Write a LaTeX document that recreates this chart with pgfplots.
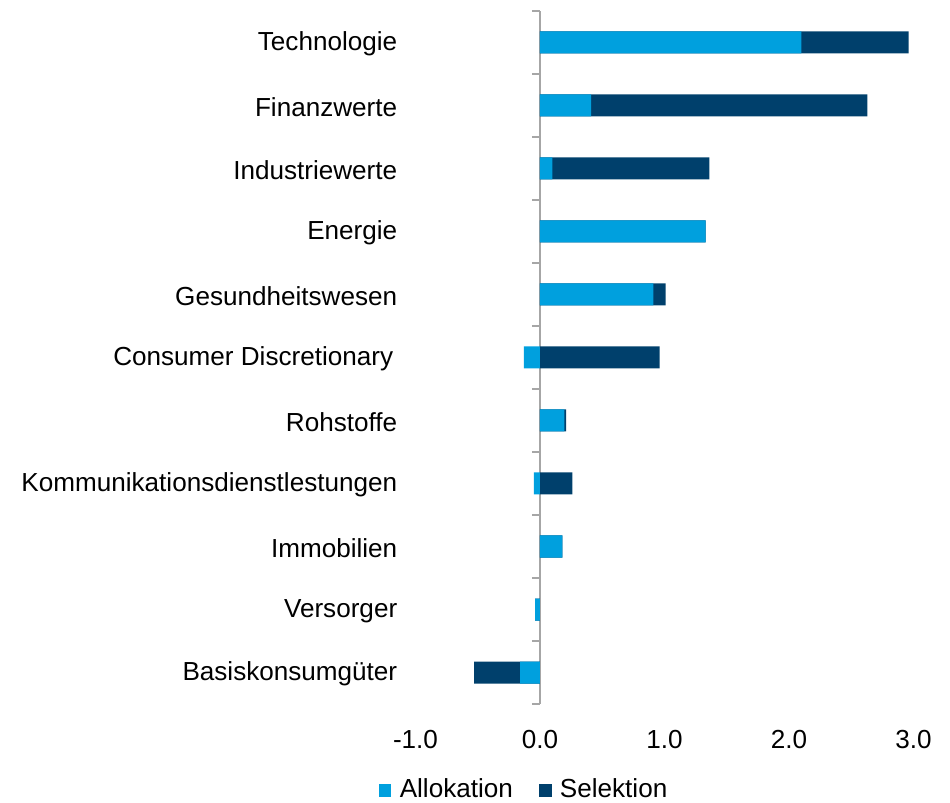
\documentclass[border=0pt]{standalone}
\usepackage{fontspec}
\setmainfont{Liberation Sans}
\usepackage{pgfplots}
\pgfplotsset{compat=1.18}
\usepackage{pgfplotstable}
\definecolor{alloc}{HTML}{00A0DE}
\definecolor{selek}{HTML}{00406C}
\definecolor{axisgray}{HTML}{A6A6A6}
\newcommand{\lab}{\fontsize{26.2}{31}\selectfont}

% y = position (0 = bottom), a = Allokation, s = Selektion
\pgfplotstableread{
y  a      s
10  2.10  0.86
9   0.41  2.22
8   0.10  1.26
7   1.33  0.00
6   0.91  0.10
5  -0.13  0.96
4   0.195 0.015
3  -0.05  0.26
2   0.18  0.00
1  -0.04  0.00
0  -0.16 -0.37
}\attrib

\begin{document}
\begin{tikzpicture}
\useasboundingbox (-415.5bp,-99bp) rectangle (534.5bp,704bp);
\begin{axis}[
  at={(0,0)}, anchor=south west,
  scale only axis, width=498bp, height=693bp,
  xmin=-1, xmax=3, ymin=-0.5, ymax=10.5,
  axis x line*=bottom, axis y line*=center,
  hide obscured x ticks=false, hide obscured y ticks=false,
  x axis line style={draw=none},
  y axis line style={draw=axisgray, line width=2bp},
  xtick={-1,0,1,2,3},
  xtick style={draw=none},
  xticklabel style={font=\lab, yshift=-19bp,
    /pgf/number format/fixed, /pgf/number format/fixed zerofill,
    /pgf/number format/precision=1},
  /pgf/number format/assume math mode=true,
  ytick={0,...,10},
  yticklabels={Basiskonsumgüter, Versorger, Immobilien\ , Kommunikationsdienstlestungen,
    Rohstoffe, Consumer Discretionary\kern4bp, Gesundheitswesen, Energie,
    Industriewerte, Finanzwerte, Technologie},
  major y tick style={draw=none},
  minor ytick={-0.5,0.5,...,10.5},
  minor y tick style={draw=axisgray, line width=2bp},
  minor tick length=8bp,
  tick align=outside,
  yticklabel style={font=\lab, anchor=east, xshift=-135bp, yshift=-1.5bp},
  xbar, bar width=22bp, bar shift=0pt,
  legend style={at={(0.218,-0.1227)}, anchor=center, draw=none, fill=none,
    font=\lab, legend columns=2,
    /tikz/every even column/.append style={column sep=24bp}},
  legend image code/.code={\fill[#1, draw=none] (0bp,-8bp) rectangle (12.7bp,4.7bp);
    \path (19bp,0bp);},
]
\addlegendimage{fill=alloc, draw=none}
\addlegendentry{Allokation}
\addlegendimage{fill=selek, draw=none}
\addlegendentry{Selektion}
\addplot[forget plot, fill=selek, draw=none] table[y=y,
  x expr={ifthenelse(\thisrow{a}*\thisrow{s}>=0, \thisrow{a}+\thisrow{s}, \thisrow{s})}] {\attrib};
\addplot[forget plot, fill=alloc, draw=none] table[y=y, x=a] {\attrib};
\end{axis}
\end{tikzpicture}
\end{document}
